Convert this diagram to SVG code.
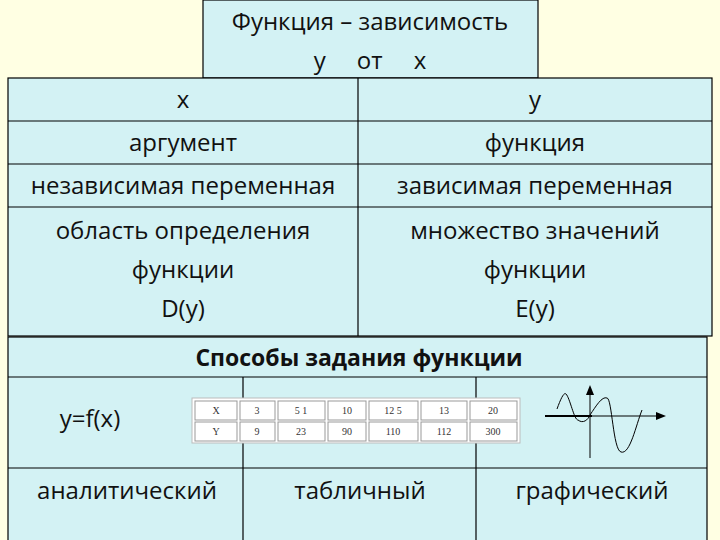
<svg xmlns="http://www.w3.org/2000/svg" width="720" height="540" viewBox="0 0 720 540">
<style>
.c{fill:#D3F2F4;stroke:#000;stroke-width:1.2}
.t{font-family:"Open Sans","DejaVu Sans",sans-serif;font-size:24px;fill:#111;text-anchor:middle}
.l{stroke:#000;stroke-width:1.2;fill:none}
.tc{fill:#fff;stroke:#999;stroke-width:1}
.s{font-family:"Liberation Serif",serif;font-size:10px;fill:#333;text-anchor:middle}
</style>
<rect width="720" height="540" fill="#FFFFE3"/>
<g id="header"><rect class="c" x="203" y="0" width="335" height="78"/>
<text class="t" x="370" y="30">Функция – зависимость</text>
<text class="t" x="370" y="69" xml:space="preserve">y     от     x</text></g>
<g id="table-xy">
<rect class="c" x="8" y="78" width="704" height="258"/>
<line class="l" x1="8" y1="121" x2="712" y2="121"/>
<line class="l" x1="8" y1="164" x2="712" y2="164"/>
<line class="l" x1="8" y1="207" x2="712" y2="207"/>
<line class="l" x1="358" y1="78" x2="358" y2="336"/>
<text class="t" x="183" y="108">x</text><text class="t" x="535" y="108">y</text>
<text class="t" x="183" y="151">аргумент</text><text class="t" x="535" y="151">функция</text>
<text class="t" x="183" y="194">независимая переменная</text><text class="t" x="535" y="194">зависимая переменная</text>
<text class="t" x="183" y="239">область определения</text><text class="t" x="535" y="239">множество значений</text>
<text class="t" x="183" y="278">функции</text><text class="t" x="535" y="278">функции</text>
<text class="t" x="183" y="317">D(y)</text><text class="t" x="535" y="317">E(y)</text>
</g>
<g id="methods">
<rect class="c" x="8" y="337" width="699" height="206"/>
<line class="l" x1="8" y1="377" x2="707" y2="377"/>
<line class="l" x1="8" y1="468" x2="707" y2="468"/>
<line class="l" x1="243" y1="377" x2="243" y2="398"/><line class="l" x1="243" y1="443" x2="243" y2="540"/>
<line class="l" x1="476" y1="377" x2="476" y2="398"/><line class="l" x1="476" y1="443" x2="476" y2="540"/>
<text class="t" x="359" y="366" style="font-weight:bold;font-size:23px">Способы задания функции</text>
<text class="t" x="90" y="427">y=f(x)</text>
<text class="t" x="127" y="499">аналитический</text>
<text class="t" x="360" y="499">табличный</text>
<text class="t" x="592" y="499">графический</text>
</g>
<g id="value-table">
<rect x="192" y="398" width="328" height="45" fill="#fff" stroke="#bbb"/>
<g class="tc">
<rect x="195" y="401" width="42" height="19"/><rect x="240" y="401" width="35" height="19"/><rect x="278" y="401" width="47" height="19"/><rect x="328" y="401" width="38" height="19"/><rect x="369" y="401" width="49" height="19"/><rect x="421" y="401" width="46" height="19"/><rect x="470" y="401" width="47" height="19"/>
<rect x="195" y="422" width="42" height="19"/><rect x="240" y="422" width="35" height="19"/><rect x="278" y="422" width="47" height="19"/><rect x="328" y="422" width="38" height="19"/><rect x="369" y="422" width="49" height="19"/><rect x="421" y="422" width="46" height="19"/><rect x="470" y="422" width="47" height="19"/>
</g>
<g class="s">
<text x="216" y="414">X</text><text x="257" y="414">3</text><text x="301" y="414">5 1</text><text x="347" y="414">10</text><text x="393" y="414">12 5</text><text x="444" y="414">13</text><text x="493" y="414">20</text>
<text x="216" y="435">Y</text><text x="257" y="435">9</text><text x="301" y="435">23</text><text x="347" y="435">90</text><text x="393" y="435">110</text><text x="444" y="435">112</text><text x="493" y="435">300</text>
</g>
</g>
<g id="graph">
<line x1="545" y1="416" x2="592" y2="416" stroke="#000" stroke-width="2"/>
<line x1="592" y1="416" x2="660" y2="416" stroke="#000" stroke-width="1"/>
<polygon points="666,416 656,412 656,420"/>
<line x1="590" y1="458" x2="590" y2="392" stroke="#000" stroke-width="1"/>
<polygon points="590,385 586,395 594,395"/>
<path d="M557,409 C561,398 564,392 566,394 C570,398 574,420 578,420 C583,424 588,420 590,415 C596,406 602,396 607,398 C612,398 613,450 621,452 C630,455 636,425 642,410" fill="none" stroke="#000" stroke-width="1"/>
</g>
</svg>
